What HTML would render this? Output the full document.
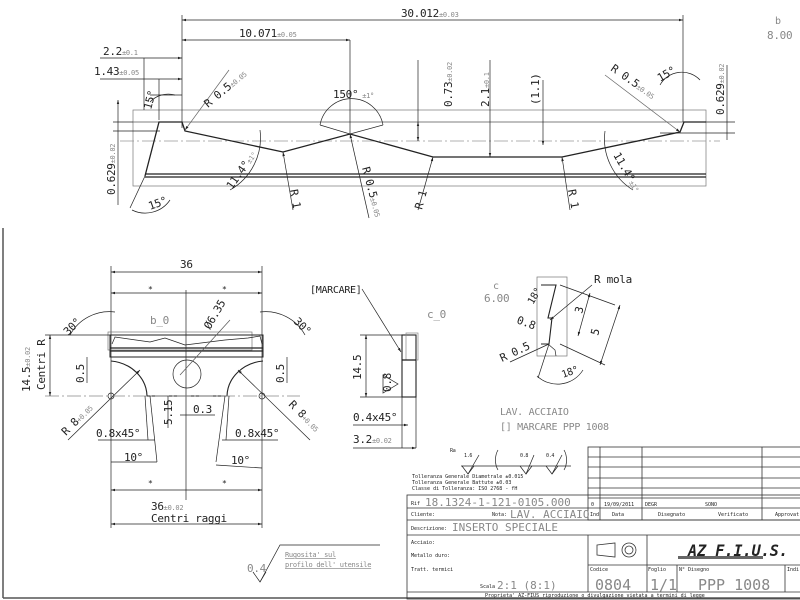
<!DOCTYPE html>
<html><head><meta charset="utf-8"><style>
html,body{margin:0;padding:0;background:#fff;width:800px;height:600px;overflow:hidden}
svg{display:block}
text{font-family:"DejaVu Sans Mono","Liberation Mono",monospace;fill:#222}
.g{fill:#888}
</style></head><body>
<svg width="800" height="600" viewBox="0 0 800 600" xmlns="http://www.w3.org/2000/svg">
<defs>
<marker id="a" viewBox="0 0 10 10" refX="10" refY="5" markerWidth="6" markerHeight="6" orient="auto-start-reverse"><path d="M0,2 L10,5 L0,8z" fill="#222"/></marker>
</defs>
<g stroke="#222" fill="none" stroke-width="0.7">
<rect x="133" y="110" width="573" height="76" stroke="#777"/>
<line x1="133" y1="122" x2="706" y2="122" stroke="#555"/>
<line x1="120" y1="141" x2="720" y2="141" stroke="#999" stroke-dasharray="14,3,2,3"/>
<line x1="145" y1="174" x2="706" y2="174" stroke-width="1.3"/>
<line x1="145" y1="177" x2="706" y2="177" stroke-width="1.3"/>
<polyline points="145,176 159,122 182,122 185,131 283,152 350,134 433,157 562,157 680,132 684,122 706,122" stroke-width="1.3"/>
<line x1="182" y1="15" x2="182" y2="128"/>
<line x1="683" y1="15" x2="683" y2="122"/>
<line x1="182" y1="20" x2="683" y2="20" marker-start="url(#a)" marker-end="url(#a)"/>
<line x1="182" y1="40" x2="350" y2="40" marker-start="url(#a)" marker-end="url(#a)"/>
<line x1="350" y1="40" x2="350" y2="135"/>
<line x1="100" y1="58" x2="182" y2="58" marker-end="url(#a)"/>
<line x1="144" y1="58" x2="144" y2="110"/>
<line x1="100" y1="79" x2="182" y2="79" marker-end="url(#a)"/>
<line x1="159" y1="79" x2="159" y2="120"/>
<line x1="150" y1="95" x2="182" y2="95"/>
<line x1="113" y1="122" x2="133" y2="122"/><line x1="113" y1="131" x2="160" y2="131"/>
<line x1="118" y1="100" x2="118" y2="205" marker-start="url(#a)"/>
<line x1="418" y1="60" x2="418" y2="141"/><line x1="418" y1="122" x2="418" y2="141" marker-start="url(#a)" marker-end="url(#a)"/>
<line x1="490" y1="60" x2="490" y2="157" marker-end="url(#a)"/>
<line x1="543" y1="80" x2="543" y2="145" marker-end="url(#a)"/>
<line x1="727" y1="65" x2="727" y2="140"/>
<line x1="706" y1="122" x2="735" y2="122"/><line x1="660" y1="133" x2="735" y2="133"/>
<line x1="229" y1="70" x2="185" y2="130" marker-end="url(#a)" stroke="#666"/>
<line x1="605" y1="75" x2="680" y2="132" marker-end="url(#a)" stroke="#666"/>
<line x1="283" y1="152" x2="293" y2="210" marker-start="url(#a)"/>
<line x1="350" y1="134" x2="369" y2="218" marker-start="url(#a)"/>
<line x1="433" y1="157" x2="418" y2="210" marker-start="url(#a)"/>
<line x1="562" y1="157" x2="570" y2="210" marker-start="url(#a)"/>
<path d="M320,125 A32,32 0 0 1 383,125"/>
<line x1="320" y1="125" x2="350" y2="134"/><line x1="383" y1="125" x2="350" y2="134"/>
<path d="M150,102 A25,25 0 0 1 175,95"/>
<path d="M132,210 A30,30 0 0 0 170,200"/>
<path d="M130,208 L145,176"/>
<path d="M230,190 A60,60 0 0 0 260,130"/>
<path d="M605,131 A60,60 0 0 0 633,190"/>
<path d="M660,85 A25,25 0 0 1 700,80"/>
<line x1="111" y1="266" x2="111" y2="528"/><line x1="262" y1="266" x2="262" y2="528"/>
<line x1="111" y1="272" x2="262" y2="272" marker-start="url(#a)" marker-end="url(#a)"/>
<line x1="111" y1="293" x2="262" y2="293" marker-start="url(#a)" marker-end="url(#a)"/>
<line x1="186" y1="290" x2="186" y2="500"/>
<rect x="108" y="332" width="144" height="18" stroke="#777"/>
<path d="M112,344 L115,337 L150,342 L165,338 L185,345 L225,340 L248,338 L260,336 L262,344" />
<line x1="110" y1="348" x2="263" y2="348" stroke-width="1.3"/><line x1="110" y1="351" x2="263" y2="351" stroke-width="1.3"/>
<rect x="110" y="335" width="153" height="22" stroke-width="1"/>
<circle cx="187" cy="374" r="14"/>
<path d="M111,361 A40,36 0 0 1 147,396 L227,396 A40,36 0 0 1 263,361" stroke-width="1.1"/>
<circle cx="111" cy="396" r="3"/><circle cx="262" cy="396" r="3"/>
<line x1="45" y1="335" x2="110" y2="335"/><line x1="45" y1="396" x2="300" y2="396" stroke="#888" stroke-dasharray="14,3,2,3"/>
<line x1="50" y1="335" x2="50" y2="396" marker-start="url(#a)" marker-end="url(#a)"/>
<line x1="87" y1="357" x2="87" y2="383"/><line x1="287" y1="357" x2="287" y2="383"/>
<path d="M70,335 A45,45 0 0 1 115,312"/><path d="M260,312 A45,45 0 0 1 305,335"/>
<line x1="68" y1="440" x2="140" y2="370" marker-end="url(#a)"/><line x1="310" y1="440" x2="238" y2="370" marker-end="url(#a)"/>
<line x1="98" y1="440" x2="155" y2="440"/><line x1="222" y1="440" x2="278" y2="440"/>
<line x1="145" y1="396" x2="148" y2="440"/><line x1="150" y1="396" x2="157" y2="462"/>
<line x1="229" y1="396" x2="226" y2="440"/><line x1="225" y1="396" x2="216" y2="462"/>
<path d="M111,462 L157,462"/><path d="M216,465 L262,468"/>
<line x1="111" y1="490" x2="262" y2="490" marker-start="url(#a)" marker-end="url(#a)"/>
<line x1="111" y1="524" x2="262" y2="524" marker-start="url(#a)" marker-end="url(#a)"/>
<line x1="168" y1="396" x2="168" y2="428"/><line x1="180" y1="415" x2="215" y2="415"/>
<line x1="180" y1="375" x2="230" y2="320" stroke="#555"/>
<rect x="402" y="335" width="14" height="62" stroke-width="1.1"/>
<rect x="406" y="333" width="12" height="27" stroke="#888"/>
<line x1="402" y1="360" x2="416" y2="360" stroke-width="1.3"/>
<line x1="360" y1="335" x2="402" y2="335"/><line x1="360" y1="397" x2="402" y2="397"/>
<line x1="366" y1="335" x2="366" y2="397" marker-start="url(#a)" marker-end="url(#a)"/>
<line x1="362" y1="289" x2="401" y2="352" marker-end="url(#a)"/>
<line x1="402" y1="397" x2="402" y2="448"/><line x1="416" y1="397" x2="416" y2="448"/>
<line x1="353" y1="425" x2="408" y2="425" marker-end="url(#a)"/>
<line x1="353" y1="448" x2="416" y2="448" marker-end="url(#a)"/>
<path d="M383,375 L398,384 L383,393z"/>
<rect x="537" y="277" width="30" height="79" stroke="#777"/>
<polyline points="541,285 556,285 548,318 552,318 549,344 541,344" stroke-width="1.1"/>
<path d="M548,344 L555,350 L556,356" />
<line x1="560" y1="285" x2="615" y2="305"/><line x1="560" y1="344" x2="605" y2="365"/>
<line x1="590" y1="293" x2="578" y2="336" marker-start="url(#a)" marker-end="url(#a)"/>
<line x1="620" y1="305" x2="600" y2="365" marker-start="url(#a)" marker-end="url(#a)"/>
<line x1="592" y1="285" x2="550" y2="320" marker-end="url(#a)"/>
<line x1="510" y1="362" x2="549" y2="344"/>
<path d="M537,376 A30,30 0 0 0 583,370"/>
<line x1="549" y1="344" x2="538" y2="378"/>
<path d="M253,572 L260,582 L266,572" /><path d="M260,582 L280,545 L380,545"/>
<path d="M462,466 L468,474 L474,466"/><path d="M468,474 L479,455"/>
<path d="M520,466 L526,474 L532,466"/><path d="M526,474 L534,455"/>
<path d="M546,466 L552,474 L558,466"/><path d="M552,474 L562,455"/>
<path d="M461,466 L571,466"/>
<path d="M498,450 A10,15 0 0 0 498,470"/><path d="M564,450 A10,15 0 0 1 564,470"/>
<line x1="3" y1="228" x2="3" y2="598" stroke="#555" stroke-width="1.5"/>
<line x1="3" y1="598" x2="800" y2="598" stroke="#555" stroke-width="1.5"/>
<g stroke="#333" stroke-width="0.8">
<rect x="588" y="447" width="213" height="73"/>
<line x1="588" y1="457" x2="800" y2="457"/><line x1="588" y1="467" x2="800" y2="467"/>
<line x1="588" y1="478" x2="800" y2="478"/><line x1="588" y1="488" x2="800" y2="488"/>
<line x1="588" y1="498" x2="800" y2="498"/><line x1="407" y1="508" x2="800" y2="508"/>
<line x1="600" y1="447" x2="600" y2="520"/><line x1="642" y1="447" x2="642" y2="520"/>
<line x1="762" y1="447" x2="762" y2="520"/>
<rect x="407" y="495" width="394" height="104"/>
<line x1="407" y1="520" x2="800" y2="520"/><line x1="407" y1="535" x2="800" y2="535"/>
<line x1="407" y1="592" x2="800" y2="592"/>
<line x1="588" y1="535" x2="588" y2="592"/><line x1="647" y1="535" x2="647" y2="592"/>
<line x1="588" y1="565" x2="800" y2="565"/><line x1="677" y1="565" x2="677" y2="592"/>
<line x1="785" y1="565" x2="785" y2="592"/>
<path d="M597,545 L615,543 L615,557 L597,555z"/>
<circle cx="629" cy="550" r="7"/><circle cx="629" cy="550" r="4"/>
</g>
</g>
<g font-size="11" letter-spacing="-0.3">
<text x="401" y="17">30.012<tspan font-size="7" class="g">±0.03</tspan></text>
<text x="239" y="37">10.071<tspan font-size="7" class="g">±0.05</tspan></text>
<text x="103" y="55">2.2<tspan font-size="7" class="g">±0.1</tspan></text>
<text x="94" y="75">1.43<tspan font-size="7" class="g">±0.05</tspan></text>
<text x="333" y="98">150°<tspan font-size="7" class="g"> ±1°</tspan></text>
<text x="775" y="24" class="g" font-size="10">b</text>
<text x="767" y="39" class="g" font-size="11">8.00</text>
<text transform="translate(151,110) rotate(-75)">15°</text>
<text transform="translate(208,108) rotate(-40)">R 0.5<tspan font-size="7" class="g">±0.05</tspan></text>
<text transform="translate(452,107) rotate(-90)">0.73<tspan font-size="7" class="g">±0.02</tspan></text>
<text transform="translate(489,107) rotate(-90)">2.1<tspan font-size="7" class="g">±0.1</tspan></text>
<text transform="translate(539,105) rotate(-90)">(1.1)</text>
<text transform="translate(610,70) rotate(35)">R 0.5<tspan font-size="7" class="g">±0.05</tspan></text>
<text transform="translate(660,82) rotate(-30)">15°</text>
<text transform="translate(724,115) rotate(-90)">0.629<tspan font-size="7" class="g">±0.02</tspan></text>
<text transform="translate(115,195) rotate(-90)">0.629<tspan font-size="7" class="g">±0.02</tspan></text>
<text transform="translate(150,210) rotate(-20)">15°</text>
<text transform="translate(232,190) rotate(-55)">11.4°<tspan font-size="7" class="g">±1°</tspan></text>
<text transform="translate(290,190) rotate(80)">R 1</text>
<text transform="translate(362,168) rotate(75)">R 0.5<tspan font-size="7" class="g">±0.05</tspan></text>
<text transform="translate(422,210) rotate(-75)">R 1</text>
<text transform="translate(568,190) rotate(80)">R 1</text>
<text transform="translate(613,155) rotate(60)">11.4°<tspan font-size="7" class="g">±1°</tspan></text>
<text x="180" y="268">36</text>
<text x="148" y="292" font-size="8">*</text><text x="222" y="292" font-size="8">*</text>
<text x="150" y="324" class="g">b_0</text>
<text transform="translate(210,330) rotate(-60)">Ø6.35</text>
<text transform="translate(68,336) rotate(-45)">30°</text>
<text transform="translate(293,322) rotate(45)">30°</text>
<text transform="translate(30,392) rotate(-90)">14.5<tspan font-size="7" class="g">±0.02</tspan></text>
<text transform="translate(45,390) rotate(-90)">Centri R</text>
<text transform="translate(84,383) rotate(-90)">0.5</text>
<text transform="translate(284,383) rotate(-90)">0.5</text>
<text transform="translate(66,436) rotate(-45)">R 8<tspan font-size="7" class="g">+0.05</tspan></text>
<text transform="translate(288,405) rotate(45)">R 8<tspan font-size="7" class="g">+0.05</tspan></text>
<text transform="translate(172,425) rotate(-90)">5.15</text>
<text x="193" y="413">0.3</text>
<text x="96" y="437">0.8x45°</text>
<text x="235" y="437">0.8x45°</text>
<text x="124" y="461">10°</text><text x="231" y="464">10°</text>
<text x="148" y="486" font-size="8">*</text><text x="222" y="486" font-size="8">*</text>
<text x="151" y="510">36<tspan font-size="7" class="g">±0.02</tspan></text>
<text x="151" y="522">Centri raggi</text>
<text x="310" y="293" font-size="10">[MARCARE]</text>
<text x="427" y="318" class="g">c_0</text>
<text transform="translate(361,380) rotate(-90)">14.5</text>
<text transform="translate(391,392) rotate(-90)">0.8</text>
<text x="353" y="421">0.4x45°</text>
<text x="353" y="443">3.2<tspan font-size="7" class="g">±0.02</tspan></text>
<text x="493" y="289" class="g" font-size="10">c</text>
<text x="484" y="302" class="g">6.00</text>
<text x="594" y="283">R mola</text>
<text transform="translate(533,305) rotate(-60)" font-size="10">18°</text>
<text transform="translate(516,323) rotate(20)">0.8</text>
<text transform="translate(502,362) rotate(-25)">R 0.5</text>
<text transform="translate(582,314) rotate(-75)">3</text>
<text transform="translate(598,336) rotate(-75)">5</text>
<text transform="translate(563,378) rotate(-20)" font-size="10">18°</text>
<text x="500" y="415" class="g" font-size="10">LAV. ACCIAIO</text>
<text x="500" y="430" class="g" font-size="10">[] MARCARE  PPP 1008</text>
<text x="247" y="572" class="g">0.4</text>
<text x="285" y="557" font-size="7" class="g" text-decoration="underline">Rugosita' sul</text>
<text x="285" y="567" font-size="7" class="g" text-decoration="underline">profilo dell' utensile</text>
<text x="450" y="452" font-size="5">Ra</text>
<text x="464" y="457" font-size="5">1.6</text><text x="520" y="457" font-size="5">0.8</text><text x="546" y="457" font-size="5">0.4</text>
</g>
<g font-size="5">
<text x="412" y="478">Tolleranza Generale Diametrale ±0.015</text>
<text x="412" y="484">Tolleranza Generale Battute ±0.03</text>
<text x="412" y="490">Classe di Tolleranza: ISO 2768 - fH</text>
<text x="411" y="505">Rif</text><text x="425" y="506" font-size="11" class="g">18.1324-1-121-0105.000</text>
<text x="411" y="516">Cliente:</text><text x="492" y="516">Nota:</text><text x="510" y="518" font-size="11" class="g">LAV. ACCIAIO</text>
<text x="591" y="506">0</text><text x="604" y="506">19/09/2011</text><text x="645" y="506">DEGR</text><text x="705" y="506">SONO</text>
<text x="590" y="516">Ind</text><text x="612" y="516">Data</text><text x="658" y="516">Disegnato</text><text x="718" y="516">Verificato</text><text x="775" y="516">Approvat</text>
<text x="411" y="530">Descrizione:</text><text x="452" y="531" font-size="11" class="g">INSERTO SPECIALE</text>
<text x="411" y="544">Acciaio:</text><text x="411" y="557">Metallo duro:</text><text x="411" y="571">Tratt. termici</text>
<text x="480" y="588">Scala</text><text x="497" y="589" font-size="11" class="g">2:1 (8:1)</text>
<text x="590" y="571">Codice</text><text x="648" y="571">Foglio</text><text x="679" y="571">N° Disegno</text><text x="787" y="571">Indi</text>
<text x="595" y="590" font-size="15" class="g">0804</text><text x="650" y="590" font-size="15" class="g">1/1</text>
<text x="698" y="590" font-size="15" class="g">PPP 1008</text>
<text x="485" y="597">Proprieta' AZ-FIUS riproduzione o divulgazione vietata a termini di legge</text>
</g>
<text x="688" y="556" font-family="Liberation Sans,sans-serif" font-size="16" font-weight="bold" font-style="italic" fill="#222" textLength="100" lengthAdjust="spacingAndGlyphs">AZ F.I.U.S.</text>
<rect x="678" y="556" width="85" height="3" fill="#666"/>
</svg>
</body></html>
